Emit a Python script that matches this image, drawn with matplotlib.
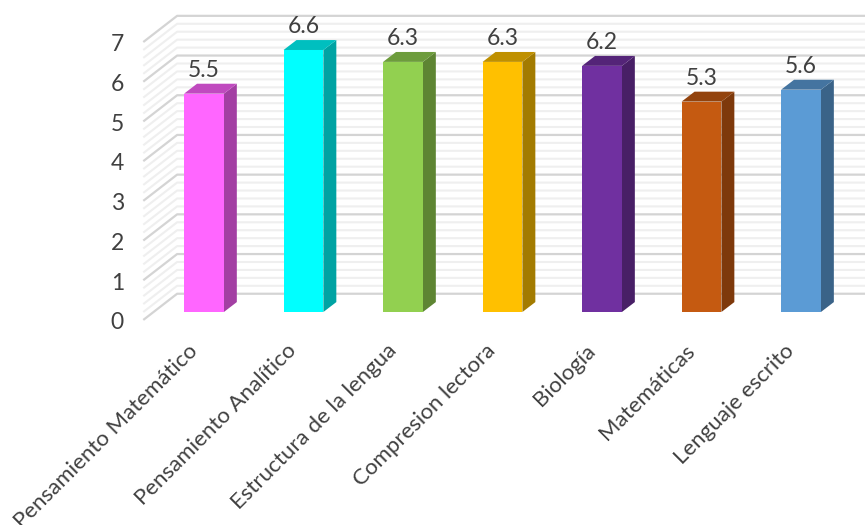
# coding: utf-8

import numpy as np
import matplotlib
matplotlib.use("Agg")
import matplotlib.pyplot as plt

categories = ["Pensamiento Matemático", "Pensamiento Analítico", "Estructura de la lengua",
              "Compresion lectora", "Biología", "Matemáticas", "Lenguaje escrito"]
values = [5.5, 6.6, 6.3, 6.3, 6.2, 5.3, 5.6]
y_ticks = [0, 1, 2, 3, 4, 5, 6, 7]

front_colors = ["#FF66FF", "#00FFFF", "#92D050", "#FFC000", "#7030A0", "#C55A11", "#5B9BD5"]
side_colors = ["#A33FA3", "#00A3A3", "#5E8533", "#A37B00", "#481F66", "#7E390B", "#3A6388"]
top_colors = ["#C04ABF", "#00BFBF", "#6D9C3C", "#BF9000", "#542478", "#93430D", "#4474A0"]

plt.rcParams['font.family'] = ['Lato', 'DejaVu Sans']
text_color = "#404040"

fig = plt.figure(figsize=(8.65, 5.25), dpi=100)
ax = fig.add_axes([0, 0, 1, 1])
# one x unit = 99.5 px, one y unit = 39.7 px, so the whole figure is the axes
ax.set_xlim(-2.05, 6.643)
ax.set_ylim(-5.365, 7.859)
ax.axis("off")

x = np.arange(len(values))
width = 0.40
dx, dy = 0.13, 0.25      # depth of the bars

# wall grid
wall_x0, wall_x1, wall_x2 = -0.61, -0.27, 6.643
wall_dy = 0.66
for v in np.arange(0, 7.01, 0.2):
    major = abs(v - round(v)) < 1e-6
    col = "#D4D4D4" if major else "#EFEFEF"
    lw = 1.6 if major else 1.5
    z = 2 if major else 1
    ax.plot([wall_x0, wall_x1, wall_x2], [v - 0.2, v - 0.2 + wall_dy, v - 0.2 + wall_dy],
            color=col, lw=lw, zorder=z, solid_capstyle="butt")

# bars
ax.bar(x, values, width=width, color=front_colors, zorder=5)
for i, v in enumerate(values):
    l = x[i] - width / 2
    r = x[i] + width / 2
    ax.fill([r, r + dx, r + dx, r], [0, dy, v + dy, v], color=side_colors[i], lw=0, zorder=4)
    ax.fill([l, l + dx, r + dx, r], [v, v + dy, v + dy, v], color=top_colors[i], lw=0, zorder=4)
    ax.text(x[i], v + 0.58, "%.1f" % v, ha="center", va="center", fontsize=16.5, color=text_color, zorder=6)

for t in y_ticks:
    ax.text(-0.87, t - 0.27, str(t), ha="center", va="center", fontsize=16.5, color=text_color)

for i, c in enumerate(categories):
    ax.text(x[i] - 0.17, -0.72, c, rotation=45, rotation_mode="anchor", ha="right", va="top",
            fontsize=16, color=text_color)

fig.savefig("out.png", dpi=100)
